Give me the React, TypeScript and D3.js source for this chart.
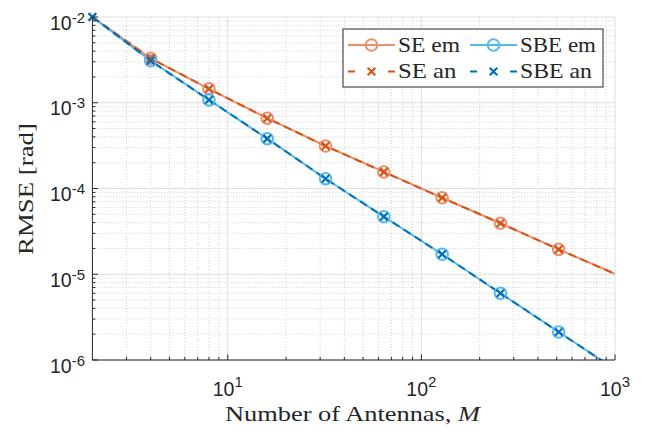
import React from "react";
import * as d3 from "d3";

const M_VALUES = [2, 4, 8, 16, 32, 64, 128, 256, 512, 1000];
const SE_EM = [1e-2, 3.3e-3, 1.45e-3, 6.6e-4, 3.13e-4, 1.56e-4, 7.8e-5, 3.93e-5, 1.95e-5, 1.01e-5];
const SBE_EM = [1e-2, 3.09e-3, 1.08e-3, 3.81e-4, 1.3e-4, 4.69e-5, 1.71e-5, 6.0e-6, 2.12e-6, 7.8e-7];
const SE_AN = [1e-2, 3.3e-3, 1.45e-3, 6.6e-4, 3.13e-4, 1.56e-4, 7.8e-5, 3.93e-5, 1.95e-5, 1.01e-5];
const SBE_AN = [1e-2, 3.09e-3, 1.08e-3, 3.81e-4, 1.3e-4, 4.69e-5, 1.71e-5, 6.0e-6, 2.12e-6, 7.8e-7];
const EM_MARKER_IDX = [1, 2, 3, 4, 5, 6, 7, 8];
const AN_MARKER_IDX = [0, 1, 2, 3, 4, 5, 6, 7, 8];
const X_TICKS = [10, 100, 1000];
const X_TICK_EXP = ["1", "2", "3"];
const Y_TICKS = [1e-2, 1e-3, 1e-4, 1e-5, 1e-6];
const Y_TICK_EXP = ["-2", "-3", "-4", "-5", "-6"];
const LEGEND_LABELS = ["SE em", "SBE em", "SE an", "SBE an"];
const LEGEND_WIDTHS = [62, 76, 58.5, 72];

const C_SE_EM = "#EE8F6C";
const C_SBE_EM = "#55B8F0";
const C_SE_AN = "#D95319";
const C_SBE_AN = "#0072BD";
const AXC = "#262626";
const SERIF = "'Liberation Serif', 'Times New Roman', serif";
const SANS = "'Liberation Sans', Arial, Helvetica, sans-serif";

const L = 92.4, R = 615, T = 17, B = 360;

export default function App() {
  const x = d3.scaleLog().domain([2, 1000]).range([L, R]);
  const y = d3.scaleLog().domain([1e-6, 1e-2]).range([B, T]);

  const minorX: number[] = [];
  [1, 10, 100].forEach((d) => {
    for (let k = 2; k <= 9; k++) {
      const v = d * k;
      if (v > 2 && v < 1000) minorX.push(v);
    }
  });
  const minorY: number[] = [];
  [1e-6, 1e-5, 1e-4, 1e-3].forEach((d) => {
    for (let k = 2; k <= 9; k++) minorY.push(d * k);
  });

  const line = (vals: number[]) =>
    d3.line<number>().x((_, i) => x(M_VALUES[i])).y((v) => y(v))(vals) || "";

  const circle = (cx: number, cy: number, color: string, key: string) => (
    <circle key={key} cx={cx} cy={cy} r={5.8} fill="none" stroke={color} strokeWidth={2} />
  );
  const cross = (cx: number, cy: number, color: string, key: string) => {
    const s = 3.8;
    return (
      <path
        key={key}
        d={`M${cx - s},${cy - s}L${cx + s},${cy + s}M${cx - s},${cy + s}L${cx + s},${cy - s}`}
        stroke={color}
        strokeWidth={2.2}
        fill="none"
      />
    );
  };

  const series = [
    { vals: SE_EM, color: C_SE_EM, dash: undefined, idx: EM_MARKER_IDX, mk: circle },
    { vals: SBE_EM, color: C_SBE_EM, dash: undefined, idx: EM_MARKER_IDX, mk: circle },
    { vals: SE_AN, color: C_SE_AN, dash: "8,5", idx: AN_MARKER_IDX, mk: cross },
    { vals: SBE_AN, color: C_SBE_AN, dash: "8,5", idx: AN_MARKER_IDX, mk: cross },
  ];

  const lgX = 343, lgY = 29, lgW = 260, lgH = 58;
  const legendItems = [
    { sx: 348, y: 45, s: series[0], label: LEGEND_LABELS[0], w: LEGEND_WIDTHS[0] },
    { sx: 470, y: 45, s: series[1], label: LEGEND_LABELS[1], w: LEGEND_WIDTHS[1] },
    { sx: 348, y: 71.5, s: series[2], label: LEGEND_LABELS[2], w: LEGEND_WIDTHS[2] },
    { sx: 470, y: 71.5, s: series[3], label: LEGEND_LABELS[3], w: LEGEND_WIDTHS[3] },
  ];

  return (
    <svg
      width={652}
      height={434}
      style={{ position: "absolute", left: 0, top: 0, background: "#fff" }}
    >
      <defs>
        <clipPath id="plotClip">
          <rect x={L} y={T} width={R - L} height={B - T} />
        </clipPath>
      </defs>
      <rect x={0} y={0} width={652} height={434} fill="#fff" />
      {minorX.map((v) => (
        <line key={"mgx" + v} x1={x(v)} x2={x(v)} y1={T} y2={B} stroke="#c4c4c4" strokeWidth={0.8} strokeDasharray="1,2" />
      ))}
      {minorY.map((v) => (
        <line key={"mgy" + v} x1={L} x2={R} y1={y(v)} y2={y(v)} stroke="#c4c4c4" strokeWidth={0.8} strokeDasharray="1,2" />
      ))}
      {X_TICKS.map((v) => (
        <line key={"gx" + v} x1={x(v)} x2={x(v)} y1={T} y2={B} stroke="#dedede" strokeWidth={1} />
      ))}
      {Y_TICKS.map((v) => (
        <line key={"gy" + v} x1={L} x2={R} y1={y(v)} y2={y(v)} stroke="#dedede" strokeWidth={1} />
      ))}

      <g clipPath="url(#plotClip)">
        {series.map((s, i) => (
          <path key={"l" + i} d={line(s.vals)} fill="none" stroke={s.color} strokeWidth={2} strokeDasharray={s.dash} />
        ))}
      </g>
      {series.map((s, i) => (
        <g key={"m" + i}>
          {s.idx.map((j) => s.mk(x(M_VALUES[j]), y(s.vals[j]), s.color, "mk" + i + "_" + j))}
        </g>
      ))}

      <line x1={L} x2={L} y1={T} y2={B} stroke={AXC} strokeWidth={1} />
      <line x1={L} x2={R} y1={B} y2={B} stroke={AXC} strokeWidth={1} />
      {X_TICKS.map((v) => (
        <line key={"tx" + v} x1={x(v)} x2={x(v)} y1={B} y2={B - 5.5} stroke={AXC} strokeWidth={1} />
      ))}
      {minorX.map((v) => (
        <line key={"mtx" + v} x1={x(v)} x2={x(v)} y1={B} y2={B - 3} stroke={AXC} strokeWidth={1} />
      ))}
      {Y_TICKS.map((v) => (
        <line key={"ty" + v} x1={L} x2={L + 5.5} y1={y(v)} y2={y(v)} stroke={AXC} strokeWidth={1} />
      ))}
      {minorY.map((v) => (
        <line key={"mty" + v} x1={L} x2={L + 3} y1={y(v)} y2={y(v)} stroke={AXC} strokeWidth={1} />
      ))}

      {X_TICKS.map((v, i) => (
        <text key={"xl" + v} x={x(v)} y={B + 36} textAnchor="middle" fontFamily={SANS} fontSize={19.5} fill={AXC}>
          10
          <tspan fontSize={15} dy={-9.5}>{X_TICK_EXP[i]}</tspan>
        </text>
      ))}
      {Y_TICKS.map((v, i) => (
        <text key={"yl" + v} x={85} y={y(v) + 12.5} textAnchor="end" fontFamily={SANS} fontSize={19.5} fill={AXC}>
          10
          <tspan fontSize={15} dy={-7}>{Y_TICK_EXP[i]}</tspan>
        </text>
      ))}

      <text
        x={352.5}
        y={421}
        textAnchor="middle"
        fontFamily={SERIF}
        fontSize={21}
        fill={AXC}
        textLength={255}
        lengthAdjust="spacingAndGlyphs"
      >
        Number of Antennas, <tspan fontStyle="italic">M</tspan>
      </text>
      <text
        transform={`translate(33,189) rotate(-90)`}
        textAnchor="middle"
        fontFamily={SERIF}
        fontSize={21}
        fill={AXC}
        textLength={132}
        lengthAdjust="spacingAndGlyphs"
      >
        RMSE [rad]
      </text>

      <rect x={lgX} y={lgY} width={lgW} height={lgH} fill="#fff" stroke={AXC} strokeWidth={1} />
      {legendItems.map((it, i) => {
        const cx = it.sx + 23.5;
        return (
          <g key={"lg" + i}>
            {it.s.dash ? (
              <>
                <line x1={it.sx} x2={it.sx + 7} y1={it.y} y2={it.y} stroke={it.s.color} strokeWidth={2} />
                <line x1={it.sx + 40} x2={it.sx + 47} y1={it.y} y2={it.y} stroke={it.s.color} strokeWidth={2} />
              </>
            ) : (
              <line x1={it.sx} x2={it.sx + 47} y1={it.y} y2={it.y} stroke={it.s.color} strokeWidth={2} />
            )}
            {it.s.mk(cx, it.y, it.s.color, "lgm" + i)}
            <text
              x={it.sx + 50}
              y={it.y + 6.7}
              fontFamily={SERIF}
              fontSize={21}
              fill={AXC}
              textLength={it.w}
              lengthAdjust="spacingAndGlyphs"
            >
              {it.label}
            </text>
          </g>
        );
      })}
    </svg>
  );
}
